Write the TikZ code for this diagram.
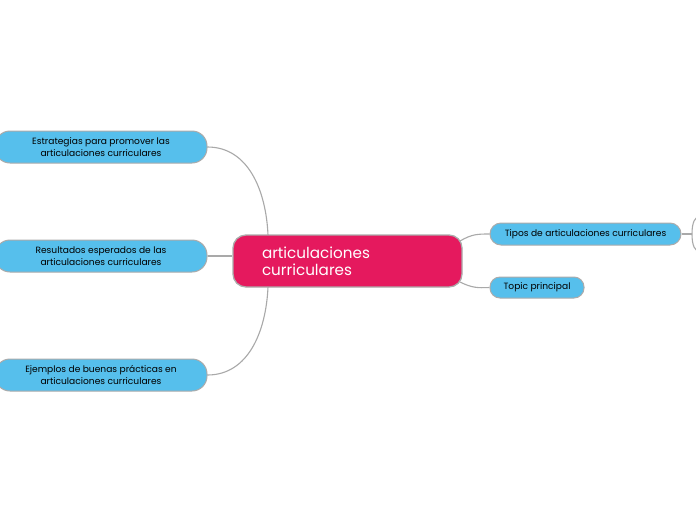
\documentclass[tikz,border=0pt]{standalone}
\usepackage{fontspec}
\setmainfont{Poppins}
\definecolor{pinkc}{HTML}{E5195E}
\definecolor{bluec}{HTML}{56BFEC}
\definecolor{bordc}{HTML}{ABABAB}
\definecolor{linec}{HTML}{A9A9A9}
\begin{document}
\begin{tikzpicture}[x=1pt,y=-1pt,
  central/.style={draw=bordc,line width=1.3pt,fill=pinkc,rounded corners=13pt,minimum width=229pt,minimum height=52pt,text=white,font=\fontsize{15.2}{17}\selectfont,align=left,text width=171pt,inner xsep=29pt,inner ysep=0pt},
  sub/.style={draw=bordc,line width=1pt,fill=bluec,rounded corners=11pt,text=black,font=\fontsize{9.1}{11.5}\selectfont,align=center,inner sep=0pt},
  conn/.style={draw=linec,line width=1.1pt}]
\useasboundingbox (0,0) rectangle (696,520);
\clip (0,0) rectangle (696,520);
\fill[white] (0,0) rectangle (696,520);
\node[central] (c) at (347.5,261) {articulaciones\\curriculares};
\node[sub,minimum width=212pt,minimum height=32pt,rounded corners=15pt] (e) at (101,147) {Estrategias para promover las\\articulaciones curriculares};
\node[sub,minimum width=212pt,minimum height=32pt,rounded corners=15pt] (r) at (101,256) {Resultados esperados de las\\articulaciones curriculares};
\node[sub,minimum width=212pt,minimum height=32pt,rounded corners=15pt] (j) at (101,375) {Ejemplos de buenas pr\'acticas en\\articulaciones curriculares};
\node[sub,minimum width=191pt,minimum height=22pt] (t) at (585.5,234) {Tipos de articulaciones curriculares};
\node[sub,minimum width=94pt,minimum height=21pt,rounded corners=10pt] (p) at (537,287.5) {Topic principal};
\coordinate (ctop) at (268,235);
\coordinate (cbot) at (268,287);
\coordinate (crt) at (460,241);
\coordinate (crb) at (460,282);
\coordinate (fork) at (692,234);
\coordinate (up) at (700,216);
\coordinate (dn) at (700,252);
\draw[conn] (e.east) .. controls (248,147) and (266,190) .. (ctop);
\draw[conn] (r.east) -- (c.west |- r.east);
\draw[conn] (j.east) .. controls (248,375) and (266,332) .. (cbot);
\draw[conn] (crt) .. controls (472,234) and (478,234) .. (t.west);
\draw[conn] (crb) .. controls (472,288) and (478,288) .. (p.west);
\draw[conn] (t.east) -- (fork);
\draw[conn] (fork) .. controls (692,222) and (695,217) .. (up);
\draw[conn] (fork) .. controls (692,246) and (695,251) .. (dn);
\end{tikzpicture}
\end{document}
